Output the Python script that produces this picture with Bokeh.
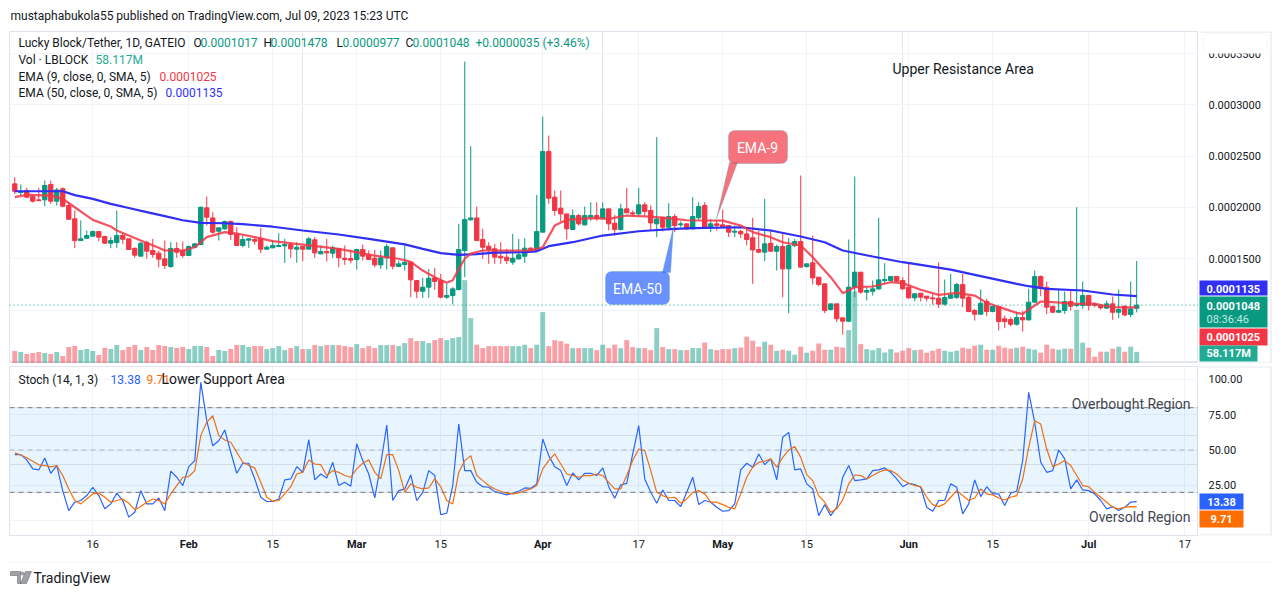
import numpy as np
import pandas as pd
from bokeh.plotting import figure
from bokeh.models import (Range1d, FixedTicker, Label, Span, BoxAnnotation, PolyAnnotation,
                          Grid, ColumnDataSource, LinearAxis)
from bokeh.core.properties import value
from bokeh.layouts import column, row
from bokeh.embed import file_html
from bokeh.resources import INLINE

FONT = "Roboto"
TXT = "#131722"
GREEN = "#089981"
RED = "#F23645"
BORDER = "#e0e3eb"
GRID = "#f0f3fa"

# ---------------- data (prices in units of 1e-7 USDT) ----------------
PRICE_UNIT = 1e-7
first_date = "2023-01-03"
opens = [2230, 2145, 2165, 2106, 2074, 2074, 2224, 2061, 2181, 2019, 1889, 1677, 1700, 1720, 1765, 1717, 1652, 1658, 1726, 1694,
         1600, 1525, 1658, 1580, 1554, 1499, 1424, 1600, 1580, 1531, 1612, 1638, 1996, 1898, 1768, 1791, 1863, 1742, 1629, 1681,
         1687, 1694, 1593, 1606, 1619, 1625, 1638, 1593, 1619, 1593, 1684, 1547, 1570, 1554, 1596, 1505, 1502, 1492, 1590, 1531,
         1505, 1440, 1509, 1606, 1424, 1443, 1466, 1287, 1183, 1222, 1313, 1287, 1125, 1141, 1200, 1580, 1879, 1898, 1687, 1622,
         1596, 1524, 1515, 1466, 1498, 1524, 1603, 1580, 1759, 2545, 2100, 1993, 1937, 1785, 1921, 1830, 1905, 1921, 1895, 1986,
         1846, 1785, 1986, 1947, 1937, 2025, 1970, 1840, 1905, 1807, 1911, 1830, 1840, 1791, 1899, 2019, 1807, 1840, 1830, 1824,
         1759, 1765, 1742, 1704, 1590, 1564, 1651, 1573, 1619, 1401, 1629, 1668, 1424, 1460, 1320, 1255, 1005, 1060, 923, 891,
         1223, 1369, 1174, 1183, 1206, 1288, 1288, 1327, 1288, 1222, 1119, 1164, 1135, 1118, 1115, 1057, 1115, 1122, 1248, 1125,
         995, 959, 1083, 985, 1034, 914, 907, 861, 927, 904, 1076, 1326, 1222, 1034, 978, 995, 1083, 1044, 1044, 1141,
         1060, 1044, 1018, 1060, 978, 1037, 956, 1017]
highs = [2295, 2223, 2191, 2106, 2191, 2262, 2262, 2191, 2197, 2051, 1970, 1873, 1775, 1775, 1765, 1723, 1710, 1970, 1749, 1694,
         1613, 1661, 1677, 1694, 1580, 1677, 1661, 1661, 1668, 1629, 1651, 2009, 2106, 1954, 1801, 1872, 1872, 1807, 1726, 1694,
         1710, 1801, 1629, 1677, 1749, 1694, 1661, 1661, 1619, 1710, 1710, 1629, 1694, 1629, 1596, 1629, 1586, 1596, 1638, 1580,
         1586, 1580, 1645, 1606, 1482, 1645, 1466, 1287, 1313, 1401, 1411, 1352, 1255, 1222, 1840, 3422, 2597, 2009, 1791, 1661,
         1645, 1661, 1596, 1742, 1694, 1700, 1612, 2122, 2886, 2701, 2165, 2165, 1937, 1979, 1937, 2009, 2051, 2051, 2051, 1986,
         1927, 2035, 2191, 1970, 2191, 2051, 2019, 2685, 1905, 2041, 1937, 1865, 1840, 2100, 2051, 2051, 1889, 1872, 1977, 1824,
         1824, 1781, 1807, 1899, 1775, 2084, 1781, 1638, 1749, 1703, 1694, 2311, 1456, 1726, 1320, 1255, 1060, 1060, 930, 1687,
         2302, 1369, 1223, 1288, 1899, 1456, 1327, 1327, 1320, 1450, 1164, 1164, 1135, 1154, 1466, 1297, 1352, 1265, 1352, 1141,
         1011, 1200, 1109, 1044, 1034, 946, 930, 985, 991, 1206, 1385, 1336, 1278, 1044, 1206, 1180, 1190, 2002, 1278, 1148,
         1076, 1060, 1092, 1131, 1200, 1044, 1278, 1478]
lows = [2132, 2116, 2093, 2048, 2064, 2012, 2035, 2019, 2002, 1879, 1603, 1677, 1694, 1717, 1671, 1645, 1603, 1603, 1645, 1590,
        1509, 1525, 1499, 1509, 1417, 1401, 1411, 1509, 1509, 1531, 1606, 1638, 1824, 1742, 1677, 1781, 1684, 1629, 1612, 1606,
        1638, 1554, 1593, 1606, 1612, 1460, 1509, 1460, 1476, 1593, 1509, 1547, 1473, 1509, 1417, 1440, 1456, 1395, 1482, 1492,
        1417, 1401, 1395, 1395, 1417, 1385, 1125, 1115, 1118, 1118, 1196, 1115, 1109, 1053, 1190, 1320, 1872, 1677, 1498, 1450,
        1450, 1450, 1450, 1440, 1492, 1460, 1564, 1580, 1759, 2035, 1921, 1862, 1687, 1785, 1823, 1823, 1872, 1872, 1888, 1775,
        1726, 1775, 1947, 1921, 1921, 1921, 1775, 1710, 1765, 1785, 1759, 1807, 1781, 1785, 1879, 1798, 1759, 1775, 1801, 1710,
        1710, 1703, 1629, 1255, 1554, 1476, 1573, 1385, 1125, 969, 1613, 1418, 1411, 1249, 1229, 969, 995, 881, 761, 881,
        1125, 1158, 1093, 1141, 1197, 1255, 1271, 1271, 1197, 1109, 1086, 1083, 1083, 1050, 1018, 1044, 1109, 1109, 1027, 978,
        897, 953, 939, 978, 800, 823, 842, 848, 790, 897, 1070, 1135, 959, 972, 978, 962, 995, 1027, 1011, 995,
        1027, 1005, 1011, 904, 920, 939, 930, 977]
closes = [2158, 2158, 2100, 2061, 2067, 2214, 2061, 2171, 2012, 1885, 1677, 1694, 1726, 1765, 1710, 1652, 1677, 1726, 1690, 1590,
          1535, 1652, 1574, 1541, 1496, 1434, 1600, 1564, 1531, 1619, 1645, 2002, 1905, 1759, 1801, 1863, 1736, 1629, 1687, 1694,
          1671, 1593, 1612, 1629, 1629, 1638, 1596, 1612, 1593, 1694, 1557, 1570, 1557, 1606, 1509, 1492, 1486, 1590, 1525, 1492,
          1440, 1509, 1619, 1427, 1450, 1466, 1294, 1183, 1222, 1310, 1278, 1125, 1141, 1206, 1590, 1882, 1898, 1677, 1612, 1590,
          1515, 1508, 1482, 1505, 1538, 1603, 1586, 1765, 2545, 2090, 1970, 1937, 1791, 1921, 1840, 1921, 1921, 1895, 1986, 1840,
          1785, 1986, 1947, 1937, 2025, 1960, 1849, 1888, 1807, 1911, 1823, 1840, 1791, 1911, 2009, 1801, 1840, 1824, 1807, 1759,
          1768, 1742, 1687, 1586, 1564, 1645, 1573, 1619, 1401, 1629, 1668, 1418, 1450, 1313, 1249, 995, 1060, 914, 891, 1223,
          1369, 1174, 1190, 1206, 1294, 1297, 1327, 1281, 1206, 1119, 1158, 1125, 1115, 1109, 1057, 1122, 1148, 1248, 1115, 985,
          959, 1066, 985, 1034, 887, 887, 861, 927, 904, 1076, 1326, 1213, 1027, 978, 995, 1083, 1037, 1053, 1141, 1044,
          1044, 1021, 1060, 978, 1005, 952, 1011, 1048]
volumes_m = [62, 57, 47, 52, 57, 52, 47, 57, 37, 82, 87, 67, 72, 62, 42, 77, 72, 92, 67, 82,
             92, 67, 82, 67, 92, 87, 82, 77, 82, 72, 87, 87, 82, 37, 67, 62, 72, 92, 92, 82,
             87, 87, 72, 77, 87, 67, 77, 87, 72, 72, 92, 87, 92, 92, 92, 87, 82, 97, 77, 87,
             77, 92, 92, 92, 87, 102, 127, 112, 112, 102, 117, 127, 117, 127, 132, 417, 227, 94, 77, 87,
             87, 87, 87, 87, 87, 94, 77, 94, 257, 87, 117, 112, 99, 77, 77, 77, 77, 67, 94, 77,
             94, 77, 117, 82, 77, 77, 67, 177, 82, 72, 72, 67, 67, 77, 77, 105, 72, 67, 72, 72,
             77, 80, 134, 114, 84, 109, 94, 64, 69, 64, 44, 84, 54, 64, 100, 69, 69, 84, 80, 167,
             360, 97, 72, 67, 77, 55, 72, 55, 64, 77, 67, 69, 54, 64, 74, 64, 59, 64, 79, 74,
             89, 94, 69, 69, 89, 79, 74, 79, 84, 74, 69, 54, 94, 74, 69, 74, 74, 269, 104, 79,
             34, 59, 59, 74, 84, 59, 84, 58.117]

# EMA values at selected candles (candle index, price in 1e-7)
ema9_idx = [0, 2, 6, 8, 10, 13, 16, 17, 19, 21, 24, 25, 28, 30, 32, 35, 37, 40, 43, 48,
            54, 56, 60, 64, 66, 68, 70, 72, 73, 74, 75, 76, 78, 86, 88, 90, 92, 96, 99, 102,
            106, 110, 112, 118, 121, 123, 126, 128, 131, 133, 136, 138, 140, 143, 146, 148, 151, 154, 157, 160,
            162, 165, 167, 168, 170, 171, 173, 177, 180, 183, 187]
ema9_val = [2100, 2123, 2116, 2084, 2002, 1879, 1814, 1775, 1726, 1677, 1606, 1580, 1580, 1612, 1710, 1759, 1746, 1710, 1671, 1638,
            1596, 1574, 1530, 1500, 1470, 1385, 1320, 1265, 1290, 1400, 1500, 1550, 1580, 1580, 1612, 1823, 1879, 1895, 1889, 1921,
            1911, 1889, 1875, 1872, 1824, 1759, 1710, 1661, 1629, 1515, 1320, 1164, 1222, 1229, 1271, 1262, 1197, 1147, 1167, 1141,
            1070, 1011, 972, 962, 1044, 1083, 1076, 1060, 1060, 1027, 1025]
ema50_idx = [0, 8, 10, 13, 16, 19, 22, 25, 28, 31, 35, 38, 43, 48, 54, 59, 65, 68, 71, 74,
             77, 80, 85, 87, 89, 93, 98, 104, 110, 113, 121, 126, 131, 135, 138, 143, 148, 151, 156, 161,
             167, 169, 172, 178, 183, 187]
ema50_val = [2158, 2158, 2120, 2084, 2035, 1995, 1955, 1915, 1875, 1850, 1846, 1838, 1812, 1775, 1736, 1694, 1640, 1596, 1555, 1538,
             1545, 1560, 1563, 1572, 1622, 1661, 1726, 1768, 1791, 1798, 1807, 1775, 1717, 1661, 1580, 1522, 1466, 1440, 1394, 1330,
             1255, 1232, 1206, 1190, 1151, 1135]

stoch_k = [46.7, 46.7, 43, 36.6, 35.9, 44.4, 33.5, 39, 21, 7, 13, 14.2, 17.7, 23.6, 17.7, 8.3, 11.8, 19.4, 14.2, 2.4,
           5.9, 21.2, 11.8, 11.8, 16, 7, 35, 30.7, 24.8, 38.2, 42.5, 98, 70.8, 53, 56.6, 64.2, 48.4, 33.5, 40.6, 40.6,
           29.5, 16.5, 13.5, 13.5, 15.3, 28.8, 29.5, 38.2, 34.2, 57.3, 28.8, 33, 30.2, 41.3, 24.8, 27.1, 24.3, 54.3, 42.5, 33,
           16, 40.1, 67.7, 14.2, 21.2, 22.4, 32.3, 14.2, 20, 35.4, 31.9, 4.2, 5.2, 24.8, 68.4, 35.4, 35.4, 27.1, 24, 23.6,
           20.5, 19.4, 18.2, 19.4, 20.8, 23.1, 22.9, 26, 57.8, 46, 38.2, 35.4, 24.8, 33.7, 28.8, 33.5, 33.5, 31.9, 37.3, 24,
           15.8, 25.3, 26.4, 47.2, 67.3,
           29.5, 20, 12.3, 21.7, 14.2, 14.2, 9.9, 20, 30.7, 11.3, 14.2, 13, 9.4, 6.6, 7.1, 11.8, 35.9, 40.6, 37.8, 47.2,
           39.6, 43.7, 28.8, 59, 62.5, 35.9, 36.6, 26, 22.4, 3.5, 11.3, 3.5, 9.4, 30.7, 39, 28.3, 28.8, 29.5, 35.4, 35.9,
           37.3, 34.2, 29.5, 24, 26.4, 25.5, 23.6, 9.4, 6.6, 14.2, 14.2, 26, 23.6, 4.7, 11.8, 28.8, 17, 24, 18.9, 18.9,
           10.6, 19.4, 20.8, 42.5, 90.9, 69.6, 41.3, 34.2, 35.4, 50, 43.7, 22.4, 28.8, 21.7, 21.2, 18.9, 14.2, 8.3, 9.9, 7.1,
           9.4, 13, 13.38]
stoch_d = [48, 46.5, 44.5, 42, 39.5, 39, 38, 39, 31.9, 22.4, 14.2, 11.8, 15.3, 18.9, 19.6, 16.5, 13, 14.2, 15.3, 12.3,
           7.6, 9.9, 13, 15.3, 14.2, 11.8, 18.9, 24.8, 30.7, 31.2, 35.4, 60.2, 69.6, 74.3, 60.2, 57.1, 55.5, 48.4, 41.3, 39,
           37.3, 27.1, 16.5, 13.7, 14.2, 18.9, 24, 33, 34.2, 43, 40.1, 39.6, 31.9, 35.4, 34.2, 31.9, 30.7, 36.6, 40.6, 43,
           34.2, 29.5, 46.7, 46.7, 35.4, 20, 26, 23.6, 22.4, 23.1, 29.5, 24, 14.2, 11.8, 34.2, 42.5, 46, 31.9, 28.3, 24.8,
           22.4, 20.8, 19.4, 18.9, 19.6, 21.2, 22.4, 24.8, 36.6, 42.5, 47.2, 40.1, 33, 31.9, 30.7, 31.9, 31.9, 33, 31.9, 27.1,
           22.4, 22.4, 31.9, 42.5, 50.7,
           49.6, 35.4, 20, 17.7, 16, 16.5, 12.3, 15.3, 20, 21.2, 18.9, 13, 13, 11.3, 9.4, 8.3, 18.9, 30.7, 37.8, 41.3,
           42, 43.7, 37.8, 44.8, 50, 52.4, 44.8, 32.6, 28.3, 17.7, 13, 5.9, 8.3, 14.6, 26, 32.3, 31.9, 29.5, 31.9, 34.2,
           35.9, 35.4, 33, 28.8, 26.4, 24.8, 24, 16.5, 11.3, 9.9, 11.8, 16.5, 21.2, 17.7, 14.2, 16, 22.4, 18.9, 18.2, 16,
           14.6, 16.5, 17.7, 29.5, 51.9, 70.8, 68.4, 50.7, 38.2, 40.1, 42.5, 39, 31.9, 24.8, 24, 20, 16.5, 13, 9.4, 8.3,
           9.4, 9.9, 9.71]

day_tick_dates = ["2023-01-16", "2023-02-15", "2023-03-15", "2023-04-17", "2023-05-15", "2023-06-15", "2023-07-17"]
day_tick_labels = ["16", "15", "15", "17", "15", "15", "17"]
month_tick_dates = ["2023-02-01", "2023-03-01", "2023-04-01", "2023-05-01", "2023-06-01", "2023-07-01"]
month_tick_labels = ["Feb", "Mar", "Apr", "May", "Jun", "Jul"]
price_ticks = [0.00010, 0.00015, 0.00020, 0.00025, 0.00030, 0.00035]
stoch_ticks = [0, 25, 50, 75, 100]

# ---------------- derived columns ----------------
day0 = pd.Timestamp("2023-01-01")
dates = pd.date_range(first_date, periods=len(opens), freq="D")
xd = np.array((dates - day0).days, dtype=float)
o = np.array(opens) * PRICE_UNIT
h = np.array(highs) * PRICE_UNIT
l = np.array(lows) * PRICE_UNIT
c = np.array(closes) * PRICE_UNIT
up = c >= o
col = np.where(up, GREEN, RED)
day_ticks = [int((pd.Timestamp(t) - day0).days) for t in day_tick_dates]
month_ticks = [int((pd.Timestamp(t) - day0).days) for t in month_tick_dates]
all_ticks = sorted(day_ticks + month_ticks)

src = ColumnDataSource(dict(x=xd, o=o, h=h, l=l, c=c, top=np.maximum(o, c), bot=np.minimum(o, c),
                            col=col, vol=np.array(volumes_m, dtype=float)))

XR = Range1d(1.12, 199.3)
YA = Range1d(0.00004784, 0.00037154)
YB = Range1d(-10.6, 109.2)
COMMON = dict(toolbar_location=None, output_backend="svg")


def put(fig, fleft, fbot, text, px, py, color=TXT, size="12px", align="left", style="normal"):
    fig.add_layout(Label(x=px - fleft, y=fbot - py, x_units="screen", y_units="screen", text=text,
                         text_align=align, text_baseline="middle", text_color=color,
                         text_font=FONT, text_font_size=size, text_font_style=style))


def box(fig, fleft, fbot, x0, y0, x1, y1, color, alpha=1.0, line=None, radius=0):
    fig.add_layout(BoxAnnotation(left=x0 - fleft, right=x1 - fleft, top=fbot - y0, bottom=fbot - y1,
                                 left_units="screen", right_units="screen", top_units="screen",
                                 bottom_units="screen", fill_color=color, fill_alpha=alpha,
                                 line_color=line, line_width=1, border_radius=radius))


# ---------------- header ----------------
hdr = figure(width=1280, height=30, x_range=Range1d(0, 1), y_range=Range1d(0, 1),
             x_axis_location=None, y_axis_location=None, min_border=0, **COMMON)
hdr.outline_line_color = None
hdr.grid.visible = False
put(hdr, 0, 30, "mustaphabukola55 published on TradingView.com, Jul 09, 2023 15:23 UTC", 10, 15)

# ---------------- price pane (page y 30..363, frame x 9..1198, y 31..363) ----------------
pA = figure(width=1198, height=333, x_range=XR, y_range=YA, x_axis_location=None, y_axis_location=None,
            min_border_left=9, min_border_right=0, min_border_top=1, min_border_bottom=0, **COMMON)
pA.outline_line_color = BORDER
pA.extra_y_ranges = {"vol": Range1d(0, 1660)}
pA.add_layout(Grid(dimension=0, ticker=FixedTicker(ticks=all_ticks), grid_line_color=GRID))
pA.add_layout(Grid(dimension=1, ticker=FixedTicker(ticks=price_ticks), grid_line_color=GRID))

pA.vbar(x="x", width=0.82, top="vol", bottom=0, y_range_name="vol", source=src,
        fill_color="col", line_color=None, fill_alpha=0.47)
pA.segment(x0="x", y0="l", x1="x", y1="h", line_color="col", line_width=1, source=src)
pA.vbar(x="x", width=0.72, top="top", bottom="bot", fill_color="col", line_color="col",
        line_width=1, source=src)
pA.line(xd[ema50_idx], np.array(ema50_val) * PRICE_UNIT, line_color="#2f2ff5", line_width=2.2)
pA.line(xd[ema9_idx], np.array(ema9_val) * PRICE_UNIT, line_color="#F23645", line_width=2.2, line_alpha=0.85)
pA.add_layout(Span(location=c[-1], dimension="width", line_color=GREEN, line_dash="1 3", line_width=1))

FA_L, FA_B = 9, 363
put(pA, FA_L, FA_B, "Lucky Block/Tether, 1D, GATEIO", 18, 42)
for t, xx, cc in [("O", 193, TXT), ("0.0001017", 200, GREEN), ("H", 263, TXT), ("0.0001478", 270, GREEN),
                  ("L", 336, TXT), ("0.0000977", 342, GREEN), ("C", 405, TXT), ("0.0001048", 412, GREEN),
                  ("+0.0000035 (+3.46%)", 475, GREEN)]:
    put(pA, FA_L, FA_B, t, xx, 42, color=cc)
put(pA, FA_L, FA_B, "Vol · LBLOCK", 18, 59)
put(pA, FA_L, FA_B, "58.117M", 95, 59, color="#22ab94")
put(pA, FA_L, FA_B, "EMA (9, close, 0, SMA, 5)", 18, 76)
put(pA, FA_L, FA_B, "0.0001025", 159, 76, color=RED)
put(pA, FA_L, FA_B, "EMA (50, close, 0, SMA, 5)", 18, 92)
put(pA, FA_L, FA_B, "0.0001135", 165, 92, color="#2f2ff5")
put(pA, FA_L, FA_B, "Upper Resistance Area", 892, 68, size="14px")

# callouts
pA.add_layout(PolyAnnotation(xs=[729 - 9, 737 - 9, 716 - 9], ys=[FA_B - 162, FA_B - 162, FA_B - 218],
                             xs_units="screen", ys_units="screen", fill_color="#F23645",
                             fill_alpha=0.7, line_color="#4f9aa6", line_width=1))
box(pA, FA_L, FA_B, 728, 130, 787, 163, "#F23645", 0.7, "#4f9aa6", 6)
put(pA, FA_L, FA_B, "EMA-9", 757, 147, color="white", size="14px", align="center")
pA.add_layout(PolyAnnotation(xs=[662 - 9, 670 - 9, 673 - 9], ys=[FA_B - 272, FA_B - 272, FA_B - 226],
                             xs_units="screen", ys_units="screen", fill_color="#2962FF",
                             fill_alpha=0.7, line_color="#4f9aa6", line_width=1))
box(pA, FA_L, FA_B, 605, 271, 669, 304, "#2962FF", 0.7, "#4f9aa6", 6)
put(pA, FA_L, FA_B, "EMA-50", 637, 288, color="white", size="14px", align="center")

# ---------------- price scale (page x 1198..1280) ----------------
pAs = figure(width=82, height=333, x_range=Range1d(0, 82), y_range=YA, x_axis_location=None,
             y_axis_location=None, min_border_left=0, min_border_right=0, min_border_top=1,
             min_border_bottom=0, **COMMON)
pAs.outline_line_color = None
pAs.grid.visible = False
pAs.text(x=[10] * len(price_ticks), y=price_ticks, text=["%.7f" % t for t in price_ticks],
         text_font=value(FONT), text_font_size=value("11px"), text_color=TXT,
         text_baseline="middle", text_align="left")
S_L = 1198
box(pAs, S_L, FA_B, 1198, 31, 1271, 32, BORDER)          # top border
box(pAs, S_L, FA_B, 1270, 31, 1271, 363, BORDER)         # right border
box(pAs, S_L, FA_B, 1198, 362, 1271, 363, BORDER)        # pane separator
box(pAs, S_L, FA_B, 1203, 33, 1267, 53, "white", 1.0, BORDER, 5)
box(pAs, S_L, FA_B, 1199, 280, 1267, 295, "#2f2ff5")
put(pAs, S_L, FA_B, "0.0001135", 1206, 288, color="white", size="11px", style="bold")
box(pAs, S_L, FA_B, 1199, 296, 1267, 327, GREEN)
put(pAs, S_L, FA_B, "0.0001048", 1206, 305, color="white", size="11px", style="bold")
put(pAs, S_L, FA_B, "08:36:46", 1206, 319, color="#c4ebe4", size="11px")
box(pAs, S_L, FA_B, 1199, 328, 1267, 345, RED)
put(pAs, S_L, FA_B, "0.0001025", 1206, 336, color="white", size="11px", style="bold")
box(pAs, S_L, FA_B, 1199, 345, 1257, 361, "#22ab94")
put(pAs, S_L, FA_B, "58.117M", 1206, 353, color="white", size="11px", style="bold")

# ---------------- stochastic pane (page y 363..561, frame y 366..535) ----------------
pB = figure(width=1198, height=198, x_range=XR, y_range=YB, y_axis_location=None,
            min_border_left=9, min_border_right=0, min_border_top=3, min_border_bottom=26, **COMMON)
pB.outline_line_color = BORDER
pB.xaxis.ticker = FixedTicker(ticks=day_ticks)
pB.xaxis.major_label_overrides = {d: s for d, s in zip(day_ticks, day_tick_labels)}
month_axis = LinearAxis(ticker=FixedTicker(ticks=month_ticks),
                        major_label_overrides={d: s for d, s in zip(month_ticks, month_tick_labels)})
pB.add_layout(month_axis, "below")
for ax, sty in [(pB.xaxis[0], "normal"), (month_axis, "bold")]:
    ax.major_label_text_font = FONT
    ax.major_label_text_font_size = "11px"
    ax.major_label_text_font_style = sty
    ax.major_label_text_color = TXT
    ax.major_tick_line_color = None
    ax.minor_tick_line_color = None
    ax.major_tick_out = 0
    ax.major_tick_in = 0
    ax.minor_tick_out = 0
    ax.minor_tick_in = 0
    ax.axis_line_color = None
ax0 = pB.xaxis[0]
ax0.axis_line_color = BORDER
ax0.major_label_standoff = 4
month_axis.major_label_standoff = -13
pB.add_layout(Grid(dimension=0, ticker=FixedTicker(ticks=all_ticks), grid_line_color=GRID))
pB.xgrid[0].grid_line_color = None
pB.add_layout(Grid(dimension=1, ticker=FixedTicker(ticks=stoch_ticks), grid_line_color=GRID))
pB.add_layout(BoxAnnotation(bottom=20, top=80, fill_color="#2196F3", fill_alpha=0.1, line_color=None))
for lv, al in [(80, 1.0), (50, 0.5), (20, 1.0)]:
    pB.add_layout(Span(location=lv, dimension="width", line_color="#787B86", line_dash="5 4",
                       line_width=1, line_alpha=al))
pB.line(xd, stoch_k, line_color="#2962FF", line_width=1.2)
pB.line(xd, stoch_d, line_color="#FF6D00", line_width=1.2)

FB_L, FB_B = 9, 535
put(pB, FB_L, FB_B, "Stoch (14, 1, 3)", 18, 379)
put(pB, FB_L, FB_B, "13.38", 110, 379, color="#2962FF")
put(pB, FB_L, FB_B, "9.71", 146, 379, color="#FF6D00")
put(pB, FB_L, FB_B, "Lower Support Area", 161, 378, size="14px")
put(pB, FB_L, FB_B, "Overbought Region", 1190, 403, size="14px", align="right", color="#434651")
put(pB, FB_L, FB_B, "Oversold Region", 1190, 516, size="14px", align="right", color="#434651")

# ---------------- stochastic scale ----------------
pBs = figure(width=82, height=198, x_range=Range1d(0, 82), y_range=YB, x_axis_location=None,
             y_axis_location=None, min_border_left=0, min_border_right=0, min_border_top=3,
             min_border_bottom=26, **COMMON)
pBs.outline_line_color = None
pBs.grid.visible = False
pBs.text(x=[10] * len(stoch_ticks), y=stoch_ticks, text=["%.2f" % t for t in stoch_ticks],
         text_font=value(FONT), text_font_size=value("11px"), text_color=TXT,
         text_baseline="middle", text_align="left")
box(pBs, S_L, FB_B, 1270, 366, 1271, 535, BORDER)        # right border
box(pBs, S_L, FB_B, 1198, 366, 1271, 367, BORDER)        # pane separator
box(pBs, S_L, FB_B, 1198, 534, 1271, 535, BORDER)        # time-axis line
box(pBs, S_L, FB_B, 1199, 493, 1243, 509, "#2962FF")
put(pBs, S_L, FB_B, "13.38", 1221, 501, color="white", size="11px", style="bold", align="center")
box(pBs, S_L, FB_B, 1199, 510, 1243, 527, "#FF6D00")
put(pBs, S_L, FB_B, "9.71", 1221, 518, color="white", size="11px", style="bold", align="center")

# ---------------- footer ----------------
ftr = figure(width=1280, height=33, x_range=Range1d(0, 1), y_range=Range1d(0, 1),
             x_axis_location=None, y_axis_location=None, min_border=0, **COMMON)
ftr.outline_line_color = None
ftr.grid.visible = False
FT_B = 594
ftr.add_layout(BoxAnnotation(left=8, right=1271, top=33, bottom=32, left_units="screen",
                             right_units="screen", top_units="screen", bottom_units="screen",
                             fill_color=BORDER, line_color=None))
# TradingView logo mark
ftr.add_layout(PolyAnnotation(xs=[10, 20, 20, 17, 17, 10], ys=[FT_B - 571, FT_B - 571, FT_B - 583,
                                                              FT_B - 583, FT_B - 575, FT_B - 575],
                              xs_units="screen", ys_units="screen", fill_color=TXT, line_color=TXT))
ftr.add_layout(PolyAnnotation(xs=[25, 31, 26, 20], ys=[FT_B - 571, FT_B - 571, FT_B - 583, FT_B - 583],
                              xs_units="screen", ys_units="screen", fill_color=TXT, line_color=TXT))
ftr.add_layout(BoxAnnotation(left=20, right=24, top=FT_B - 571, bottom=FT_B - 575, left_units="screen",
                             right_units="screen", top_units="screen", bottom_units="screen",
                             fill_color=TXT, line_color=None, border_radius=2))
put(ftr, 0, FT_B, "TradingView", 33, 577, size="14px")

body = row(column(pA, pB, spacing=0), column(pAs, pBs, spacing=0), spacing=0)
layout = column(hdr, body, ftr, spacing=0)
open("out.html", "w").write(file_html(layout, INLINE))
